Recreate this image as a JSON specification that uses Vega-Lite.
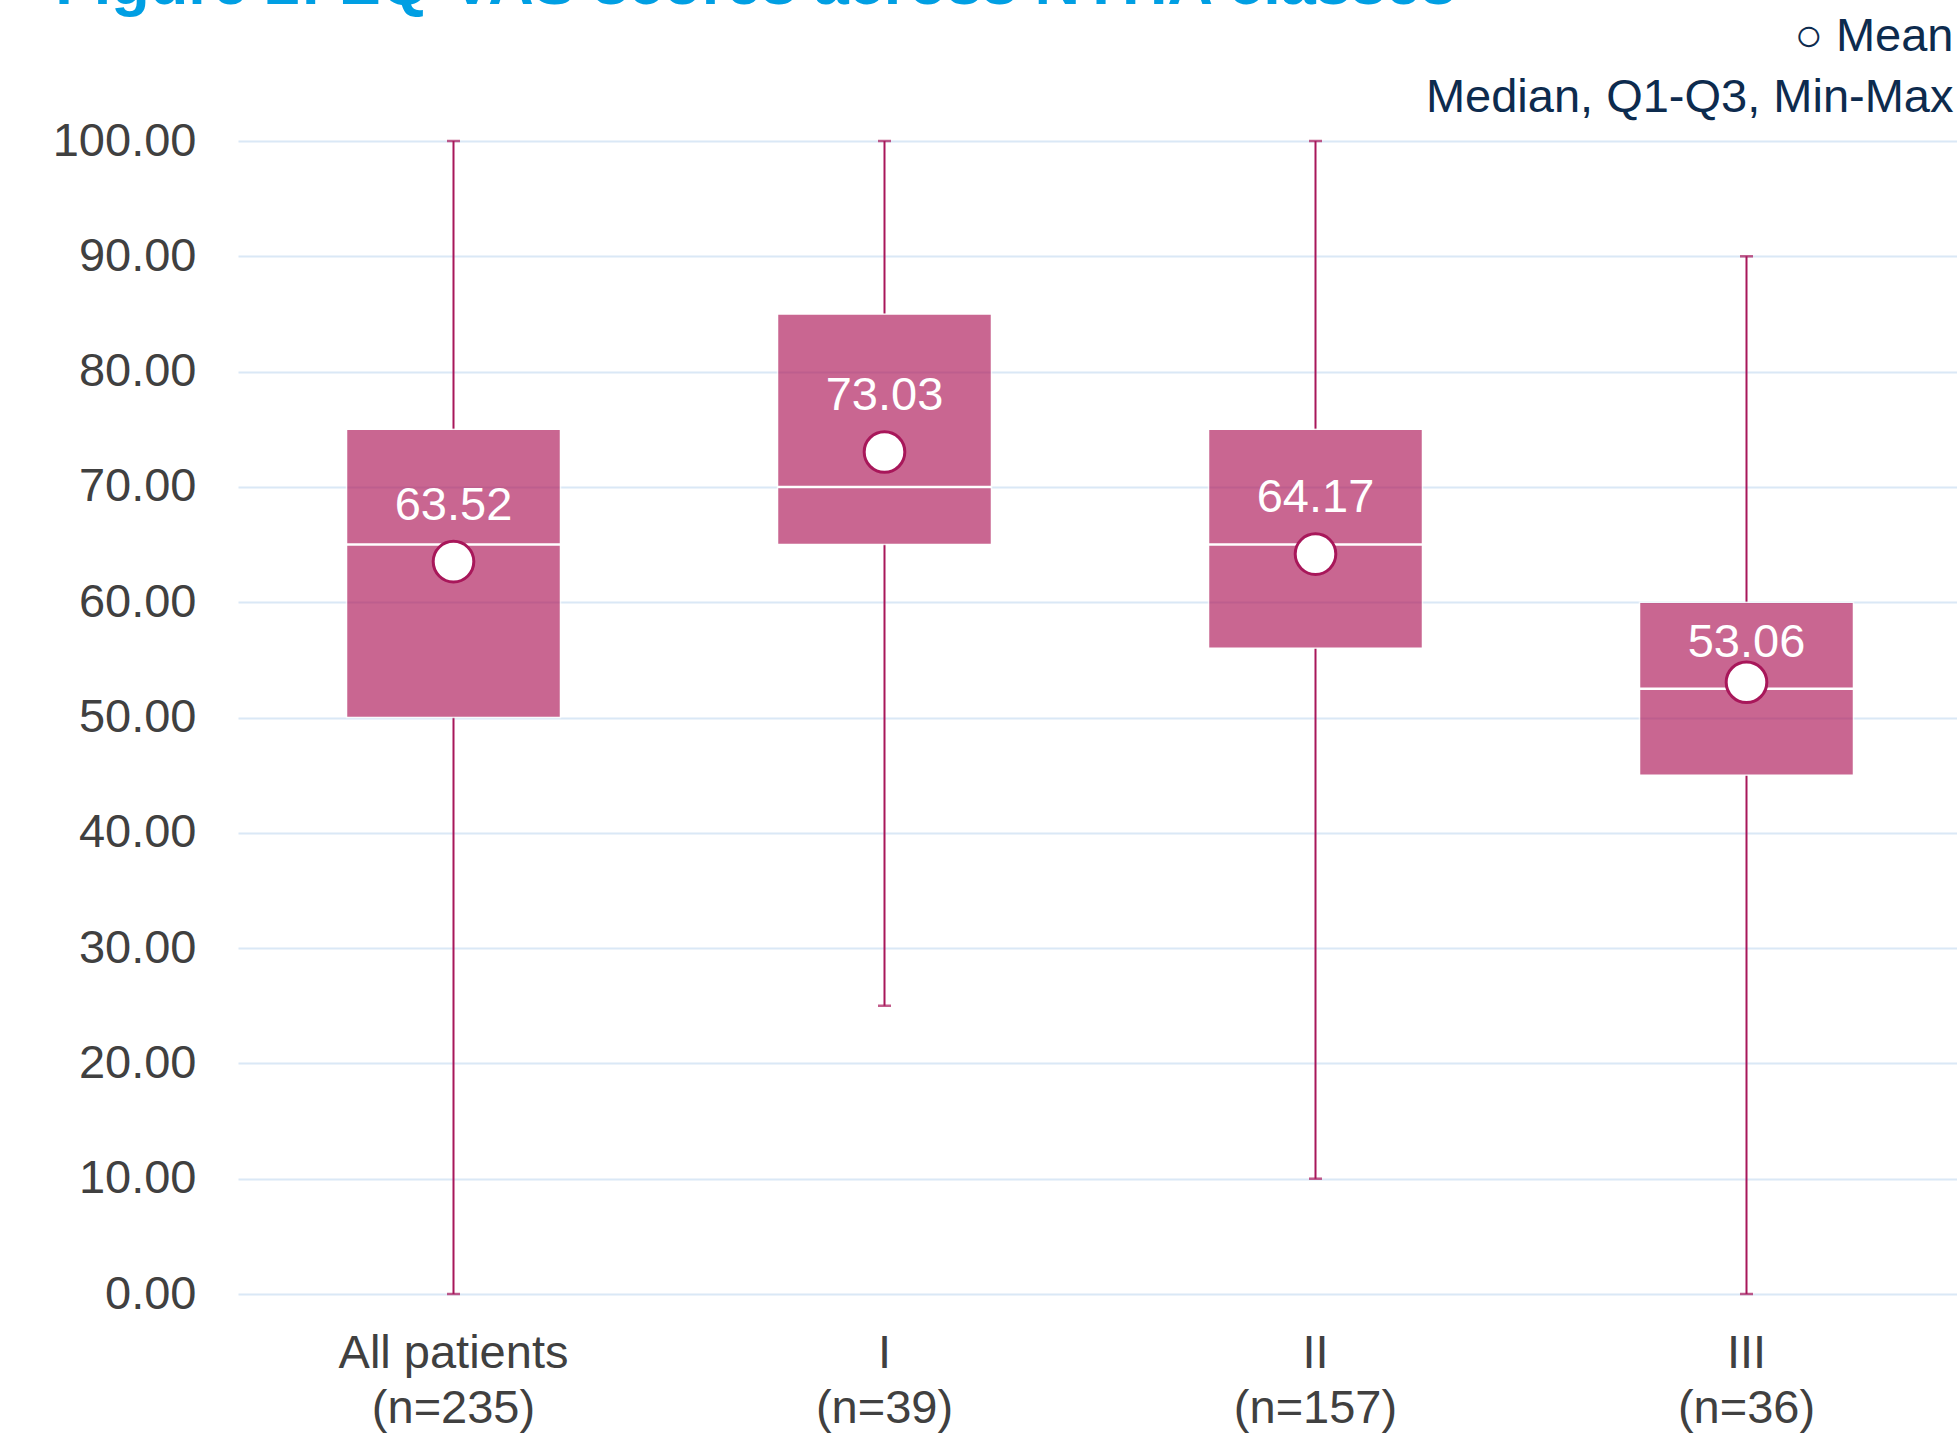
{
  "$schema": "https://vega.github.io/schema/vega-lite/v6.json",
  "autosize": {"type": "none"},
  "padding": {"left": 238, "top": 141, "right": 0, "bottom": 145},
  "width": 1719,
  "height": 1153,
  "background": "white",
  "title": {
    "text": "Figure 2: EQ-VAS scores across NYHA classes",
    "anchor": "start",
    "frame": "bounds",
    "offset": 0,
    "dy": 5,
    "dx": 3,
    "font": "Liberation Sans",
    "fontSize": 63,
    "fontWeight": "bold",
    "color": "#009fe3"
  },
  "data": {
    "values": [
      {"group": "All patients\n(n=235)", "min": 0, "q1": 50, "median": 65, "q3": 75, "max": 100, "mean": 63.52},
      {"group": "I\n(n=39)", "min": 25, "q1": 65, "median": 70, "q3": 85, "max": 100, "mean": 73.03},
      {"group": "II\n(n=157)", "min": 10, "q1": 56, "median": 65, "q3": 75, "max": 100, "mean": 64.17},
      {"group": "III\n(n=36)", "min": 0, "q1": 45, "median": 52.5, "q3": 60, "max": 90, "mean": 53.06}
    ]
  },
  "encoding": {
    "x": {
      "field": "group",
      "type": "nominal",
      "sort": null,
      "scale": {"range": [0, 1724], "paddingInner": 0, "paddingOuter": 0},
      "axis": {
        "title": null,
        "labelAngle": 0,
        "labelExpr": "split(datum.label, '\\n')",
        "labelFontSize": 47,
        "labelColor": "#404040",
        "labelLineHeight": 55,
        "labelPadding": 36,
        "labelBaseline": "top",
        "domain": false,
        "ticks": false,
        "grid": false,
        "labelLimit": 1000
      }
    }
  },
  "layer": [
    {
      "mark": {"type": "rule", "color": "#a8175a", "strokeWidth": 2},
      "encoding": {
        "y": {
          "field": "q3",
          "type": "quantitative",
          "scale": {"domain": [0, 100], "nice": false, "zero": false},
          "axis": {
            "values": [0, 10, 20, 30, 40, 50, 60, 70, 80, 90, 100],
            "format": ".2f",
            "domain": false,
            "ticks": false,
            "grid": true,
            "gridColor": "#dae8f6",
            "gridWidth": 2,
            "labelFontSize": 47,
            "labelColor": "#404040",
            "labelPadding": 42,
            "labelBaseline": "middle",
            "title": ["○ Mean", "Median, Q1-Q3, Min-Max"],
            "titleAngle": 0,
            "titleAlign": "right",
            "titleBaseline": "middle",
            "titleX": 1715,
            "titleY": -105,
            "titleFontSize": 47,
            "titleFontWeight": "normal",
            "titleColor": "#0d2b4e",
            "titleLineHeight": 61
          }
        },
        "y2": {"field": "max"}
      }
    },
    {
      "mark": {"type": "rule", "color": "#a8175a", "strokeWidth": 2},
      "encoding": {
        "y": {"field": "min", "type": "quantitative"},
        "y2": {"field": "q1"}
      }
    },
    {
      "mark": {"type": "tick", "color": "#a8175a", "size": 13, "thickness": 2.5, "orient": "horizontal"},
      "encoding": {"y": {"field": "max", "type": "quantitative"}}
    },
    {
      "mark": {"type": "tick", "color": "#a8175a", "size": 13, "thickness": 2.5, "orient": "horizontal"},
      "encoding": {"y": {"field": "min", "type": "quantitative"}}
    },
    {
      "mark": {"type": "bar", "size": 214, "color": "#b01e5e", "opacity": 0.68, "stroke": "white", "strokeWidth": 1.5, "strokeOpacity": 1},
      "encoding": {
        "y": {"field": "q1", "type": "quantitative"},
        "y2": {"field": "q3"}
      }
    },
    {
      "mark": {"type": "tick", "color": "white", "size": 214, "thickness": 2.5, "orient": "horizontal", "opacity": 1},
      "encoding": {"y": {"field": "median", "type": "quantitative"}}
    },
    {
      "mark": {"type": "point", "shape": "circle", "filled": false, "fill": "white", "fillOpacity": 1, "stroke": "#a8175a", "strokeWidth": 3, "size": 1650, "opacity": 1},
      "encoding": {"y": {"field": "mean", "type": "quantitative"}}
    },
    {
      "transform": [{"filter": "!test(/^III/, datum.group)"}],
      "mark": {"type": "text", "color": "white", "fontSize": 47, "baseline": "middle", "align": "center", "dy": -56},
      "encoding": {
        "y": {"field": "mean", "type": "quantitative"},
        "text": {"field": "mean", "type": "quantitative", "format": ".2f"}
      }
    },
    {
      "transform": [{"filter": "test(/^III/, datum.group)"}],
      "mark": {"type": "text", "color": "white", "fontSize": 47, "baseline": "middle", "align": "center", "dy": -39},
      "encoding": {
        "y": {"field": "mean", "type": "quantitative"},
        "text": {"field": "mean", "type": "quantitative", "format": ".2f"}
      }
    }
  ],
  "config": {
    "font": "Liberation Sans",
    "view": {"stroke": null}
  }
}
